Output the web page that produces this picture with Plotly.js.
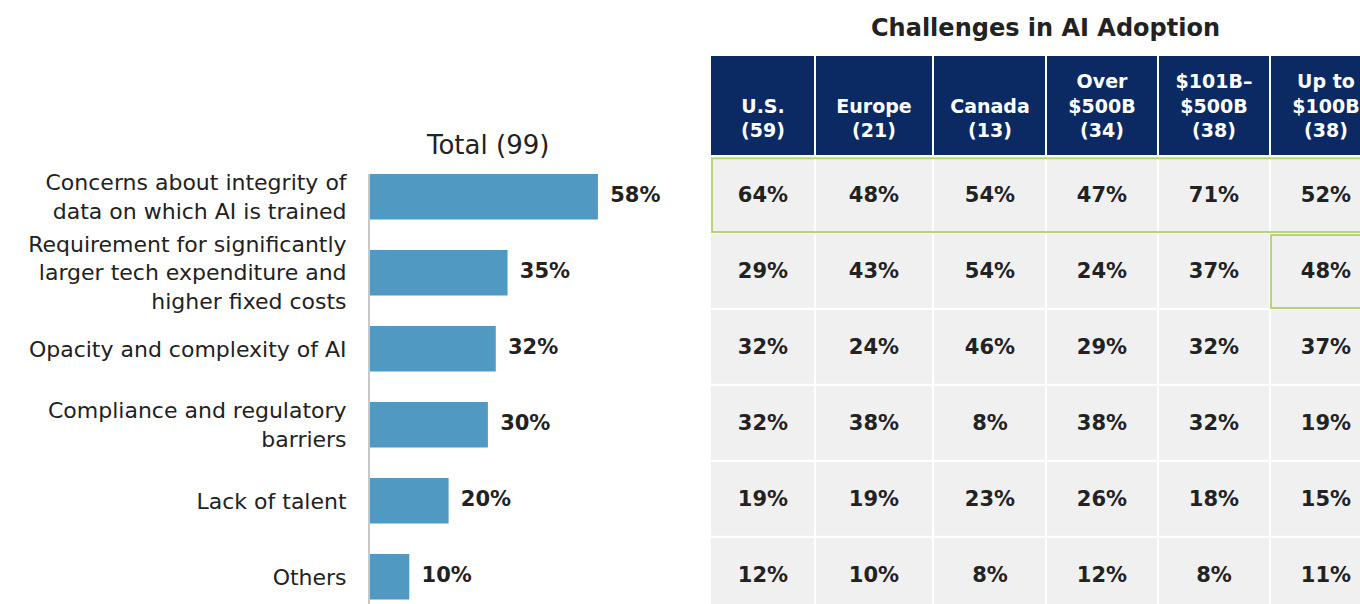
<!DOCTYPE html>
<html>
<head>
<meta charset="utf-8">
<script src="https://cdn.plot.ly/plotly-3.0.1.min.js"></script>
<style>html,body{margin:0;padding:0;background:#fff;}#chart{width:1360px;height:604px;}</style>
</head>
<body>
<div id="chart"></div>
<script>
// ---- data ----
const challenges = [
  "Concerns about integrity of<br>data on which AI is trained",
  "Requirement for significantly<br>larger tech expenditure and<br>higher fixed costs",
  "Opacity and complexity of AI",
  "Compliance and regulatory<br>barriers",
  "Lack of talent",
  "Others"
];
const totalPct = [58, 35, 32, 30, 20, 10];
const groupLabels = ["U.S.<br>(59)", "Europe<br>(21)", "Canada<br>(13)", "Over<br>$500B<br>(34)", "$101B–<br>$500B<br>(38)", "Up to<br>$100B<br>(38)"];
const usPct       = [64, 29, 32, 32, 19, 12];
const europePct   = [48, 43, 24, 38, 19, 10];
const canadaPct   = [54, 54, 46, 8, 23, 8];
const over500Pct  = [47, 24, 29, 38, 26, 12];
const mid101Pct   = [71, 37, 32, 32, 18, 8];
const upto100Pct  = [52, 48, 37, 19, 15, 11];

// ---- layout helpers ----
const W = 1360, H = 604;
const FONT = "'DejaVu Sans', Roboto, sans-serif";
const INK = "#222222";
const columns = [usPct, europePct, canadaPct, over500Pct, mid101Pct, upto100Pct];
const colW = [105, 118, 113, 112, 112, 112];
const xEdges = [0]; colW.forEach(w => xEdges.push(xEdges[xEdges.length-1] + w));
const headerH = 1.33;
const bodyEdges = []; for (let i = 0; i <= challenges.length; i++) bodyEdges.push(headerH + 0.01 + i);

const zBody = challenges.map(() => columns.map(() => 0));
const tBody = challenges.map((_, r) => columns.map(c => c[r] + "%"));
const hdr = groupLabels.map(s => { const n = s.split("<br>").length; return "<br>".repeat(3 - n) + s; });

const traces = [
  {
    type: "bar", orientation: "h",
    y: challenges, x: totalPct,
    marker: { color: "#4f99c3" },
    width: 0.6,
    xaxis: "x", yaxis: "y",
    hoverinfo: "skip"
  },
  {
    type: "scatter", mode: "markers+text",
    y: challenges, x: totalPct,
    marker: { size: 18, color: "rgba(0,0,0,0)" },
    text: totalPct.map(v => v + "%"),
    textposition: "middle right",
    textfont: { family: FONT, size: 21, color: INK, weight: 700 },
    cliponaxis: false,
    xaxis: "x", yaxis: "y",
    hoverinfo: "skip"
  },
  {
    type: "heatmap",
    x: xEdges, y: [0, headerH],
    z: [groupLabels.map(() => 1)],
    text: [hdr],
    texttemplate: "%{text}",
    textfont: { family: FONT, size: 19, color: "#ffffff", weight: 700 },
    colorscale: [[0, "#0b2a63"], [1, "#0b2a63"]],
    showscale: false, xgap: 2, ygap: 2,
    xaxis: "x2", yaxis: "y2", hoverinfo: "skip"
  },
  {
    type: "heatmap",
    x: xEdges, y: bodyEdges,
    z: zBody,
    text: tBody,
    texttemplate: "%{text}",
    textfont: { family: FONT, size: 21, color: INK, weight: 700 },
    colorscale: [[0, "#f0f0f0"], [1, "#f0f0f0"]],
    showscale: false, xgap: 2, ygap: 2,
    xaxis: "x2", yaxis: "y2", hoverinfo: "skip"
  }
];

const yRange2 = (H - 55) / 76;
const highlight = "#b7d47c";
const shapes = [
  { type: "rect", xref: "x2", yref: "y2", x0: 2, x1: xEdges[6] + 20, y0: bodyEdges[0] + 0.02, y1: bodyEdges[1] - 0.01,
    line: { color: highlight, width: 2 }, fillcolor: "rgba(0,0,0,0)" },
  { type: "rect", xref: "x2", yref: "y2", x0: xEdges[5] + 1, x1: xEdges[6] + 20, y0: bodyEdges[1] + 0.03, y1: bodyEdges[2] - 0.01,
    line: { color: highlight, width: 2 }, fillcolor: "rgba(0,0,0,0)" }
];

const barPxPerPct = 3.93;
const barW = 0.6;
const xDom0 = 370 / W, xDom1 = 700 / W;
const plotTop = 174;
const yDomTop = 1 - plotTop / H;
const rowPx = 76;

const layout = {
  width: W, height: H,
  margin: { l: 0, r: 0, t: 0, b: 0 },
  paper_bgcolor: "#ffffff", plot_bgcolor: "rgba(0,0,0,0)",
  showlegend: false,
  font: { family: FONT, color: INK },
  xaxis: {
    domain: [xDom0, xDom1], anchor: "y",
    range: [0, (700 - 370) / barPxPerPct],
    showgrid: false, zeroline: false, showticklabels: false, showline: false, ticks: "", fixedrange: true
  },
  yaxis: {
    domain: [0, yDomTop], anchor: "x",
    range: [-barW / 2 + (H - plotTop) / rowPx, -barW / 2],
    showgrid: false, zeroline: false,
    showline: true, linecolor: "#c8c8c8", linewidth: 2,
    ticks: "outside", ticklen: 17, tickcolor: "rgba(0,0,0,0)",
    tickfont: { family: FONT, size: 22, color: INK },
    fixedrange: true
  },
  xaxis2: {
    domain: [710 / W, 1], anchor: "y2",
    range: [0, 650],
    showgrid: false, zeroline: false, showticklabels: false, showline: false, ticks: "", fixedrange: true
  },
  yaxis2: {
    domain: [0, 1 - 55 / H], anchor: "x2",
    range: [yRange2, 0],
    showgrid: false, zeroline: false, showticklabels: false, showline: false, ticks: "", fixedrange: true
  },
  shapes: shapes,
  annotations: [
    { text: "Total (99)", xref: "paper", yref: "paper", x: 487 / W, y: 1 - 145 / H,
      showarrow: false, xanchor: "center", yanchor: "middle",
      font: { family: FONT, size: 26, color: INK } },
    { text: "Challenges in AI Adoption", xref: "paper", yref: "paper", x: 1045 / W, y: 1 - 28 / H,
      showarrow: false, xanchor: "center", yanchor: "middle",
      font: { family: FONT, size: 24, color: INK, weight: 700 } }
  ]
};

Plotly.newPlot("chart", traces, layout, { displayModeBar: false, staticPlot: true });
</script>
</body>
</html>
